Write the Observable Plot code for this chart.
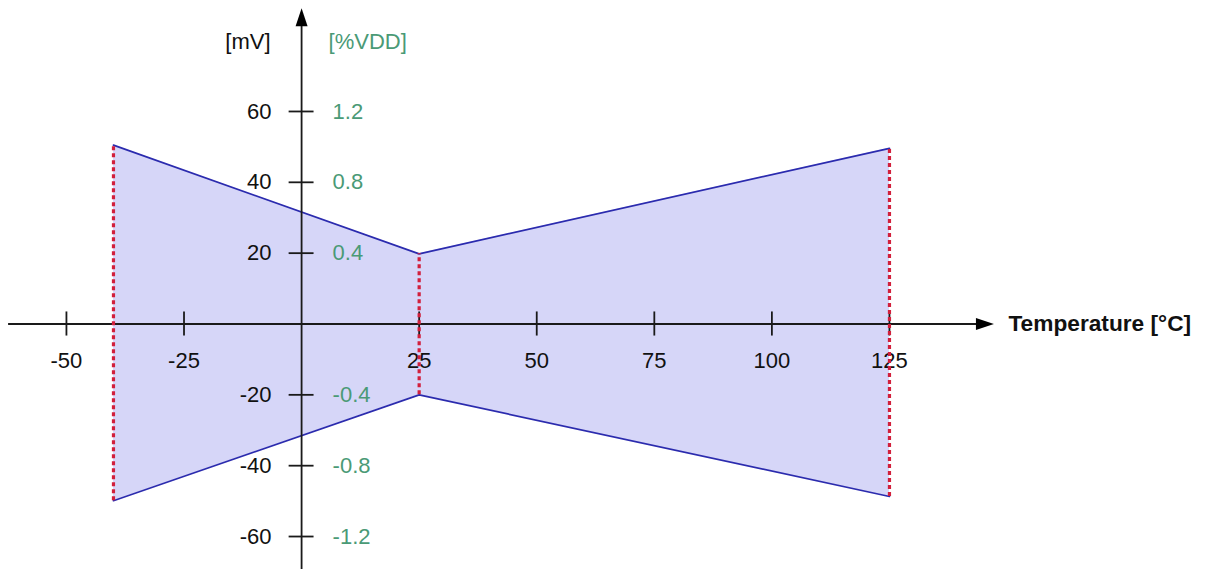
<!DOCTYPE html>
<html>
<head>
<meta charset="utf-8">
<script src="https://cdn.jsdelivr.net/npm/d3@7"></script>
<script src="https://cdn.jsdelivr.net/npm/@observablehq/plot@0.6"></script>
<style>
  html, body { margin: 0; padding: 0; background: #fff; }
  svg { display: block; }
</style>
</head>
<body>
<div id="chart"></div>
<script>
// ---- data ----
const temps = [-40, 25, 125];
const upperMv = [50.5, 19.8, 49.6];
const lowerMv = [-49.9, -20, -48.7];
const xTicks = [-50, -25, 25, 50, 75, 100, 125];
const xTickLabels = ["-50", "-25", "25", "50", "75", "100", "125"];
const yTicks = [60, 40, 20, -20, -40, -60];
const mvLabels = ["60", "40", "20", "-20", "-40", "-60"];
const vddLabels = ["1.2", "0.8", "0.4", "-0.4", "-0.8", "-1.2"];
const xTitle = "Temperature [°C]";
const mvTitle = "[mV]";
const vddTitle = "[%VDD]";

const band = temps.map((t, i) => ({t, hi: upperMv[i], lo: lowerMv[i]}));
const xt = xTicks.map((v, i) => ({v, label: xTickLabels[i]}));
const yt = yTicks.map((v, i) => ({v, mv: mvLabels[i], vdd: vddLabels[i]}));

const font = "Liberation Sans, Arial, sans-serif";
const green = "#4a9a76";
const axisColor = "#1a1a1a";

// filled arrowhead symbol pointing up
const arrowHead = {
  draw(context) {
    context.moveTo(0, -9);
    context.lineTo(6, 9);
    context.lineTo(-6, 9);
    context.closePath();
  }
};

const chart = Plot.plot({
  width: 1213,
  height: 569,
  marginTop: 0, marginRight: 0, marginBottom: 0, marginLeft: 0,
  style: {background: "#fff", fontFamily: font},
  x: {domain: [-64.02, 193.9], axis: null},
  y: {domain: [-69.31, 91.33], axis: null},
  marks: [
    // shaded band
    Plot.areaY(band, {x: "t", y1: "lo", y2: "hi", fill: "#d6d6f8"}),
    Plot.line(band, {x: "t", y: "hi", stroke: "#2b2bae", strokeWidth: 1.7}),
    Plot.line(band, {x: "t", y: "lo", stroke: "#2b2bae", strokeWidth: 1.7}),
    // x axis
    Plot.ruleY([0], {x1: -62.3, x2: 144, stroke: axisColor, strokeWidth: 1.8}),
    Plot.dot([0], {x: 145.3, y: d => d, symbol: arrowHead, rotate: 90, fill: "#000", stroke: null}),
    Plot.ruleX(xt, {x: "v", y1: -3.4, y2: 3.4, stroke: axisColor, strokeWidth: 1.8}),
    Plot.text(xt, {x: "v", y: 0, dy: 37, text: "label", fontSize: 22, fill: "#111"}),
    Plot.text([xTitle], {x: 150.3, y: 0, text: d => d, textAnchor: "start", fontSize: 22.7, fontWeight: "bold", fill: "#111"}),
    // y axis
    Plot.ruleX([0], {y1: -70, y2: 86, stroke: axisColor, strokeWidth: 1.8}),
    Plot.dot([0], {x: d => d, y: 86.6, symbol: arrowHead, fill: "#000", stroke: null}),
    Plot.ruleY(yt, {y: "v", x1: -2.65, x2: 2.65, stroke: axisColor, strokeWidth: 1.8}),
    Plot.text(yt, {x: 0, y: "v", dx: -30, text: "mv", textAnchor: "end", fontSize: 22, fill: "#111"}),
    Plot.text(yt, {x: 0, y: "v", dx: 31, text: "vdd", textAnchor: "start", fontSize: 22, fill: green}),
    Plot.text([mvTitle], {x: 0, y: 79.5, dx: -31, text: d => d, textAnchor: "end", fontSize: 22, fill: "#111"}),
    Plot.text([vddTitle], {x: 0, y: 79.5, dx: 27, text: d => d, textAnchor: "start", fontSize: 22, fill: green}),
    // red dashed limits
    Plot.ruleX(band, {x: "t", y1: "lo", y2: "hi", stroke: "#d21f3c", strokeWidth: 3.2, strokeDasharray: "4,3"})
  ]
});
document.getElementById("chart").appendChild(chart);
</script>
</body>
</html>
